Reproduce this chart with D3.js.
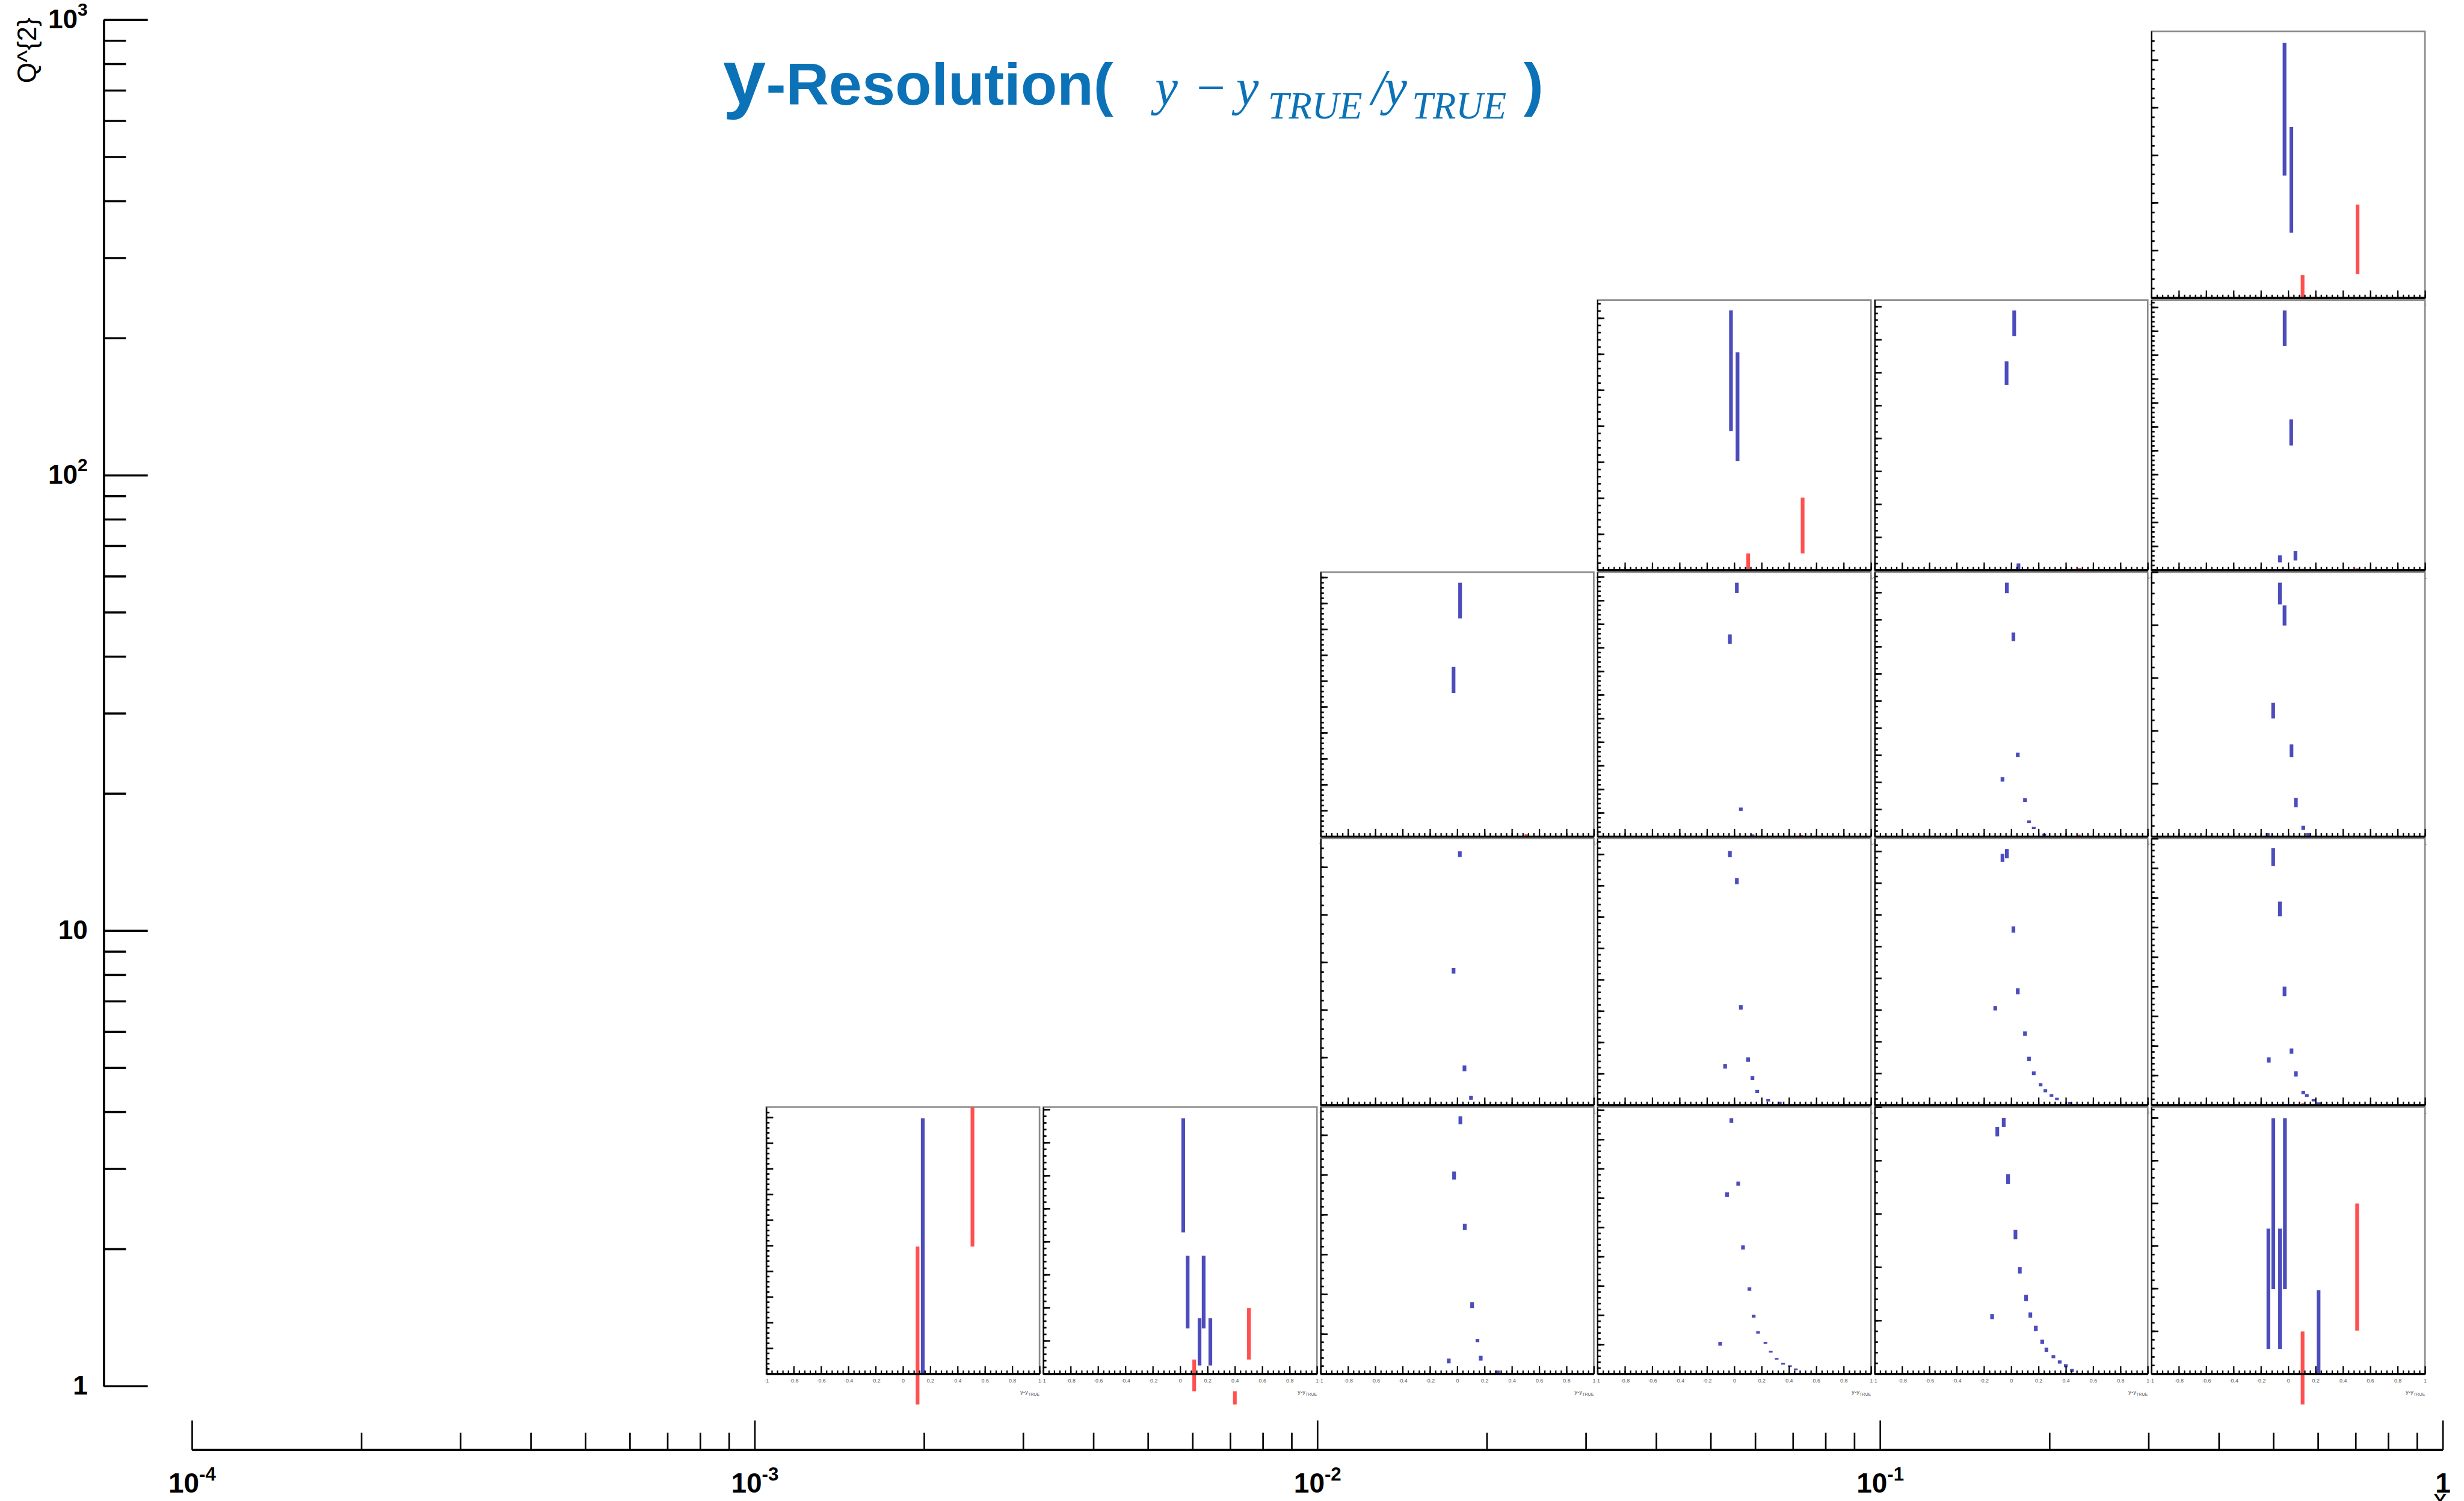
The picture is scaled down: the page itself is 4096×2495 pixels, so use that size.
<!DOCTYPE html>
<html>
<head>
<meta charset="utf-8">
<script src="https://cdn.jsdelivr.net/npm/d3@7"></script>
<style>
  body { margin: 0; background: #fff; }
  svg { display: block; }
</style>
</head>
<body>
<script>
// main axes
var xTicksMajor = [1e-4, 1e-3, 1e-2, 1e-1, 1];
var yTicksMajor = [1, 10, 100, 1000];

// where the small pads sit on the main axes (x and Q^2)
var padXEdges = [0.00104, 0.00323, 0.01005, 0.0312, 0.097, 0.301, 0.936];
var padQ2Edges = [1.064, 4.14, 16.1, 61.9, 245, 953];

// one entry per pad: column, row (0 = lowest Q^2), y range of the pad
var padCol = [0, 1, 2, 3, 4, 5, 2, 3, 4, 5, 2, 3, 4, 5, 3, 4, 5, 5];
var padRow = [0, 0, 0, 0, 0, 0, 1, 1, 1, 1, 2, 2, 2, 2, 3, 3, 3, 4];
var padYMax = [10.4, 8.07, 6.7, 9.1, 5, 6.25, 5.6, 8.5, 8.4, 9.0, 10.2, 11.2, 9.75, 5, 7.5, 8.2, 11.3, 5.6];

// error bars [resolution, low, high]
var padBlue = [
  [[0.145, 0, 9.96]],
  [[0.023, 4.28, 7.73], [0.055, 1.37, 3.57], [0.142, 0.25, 1.68], [0.172, 1.37, 3.57], [0.221, 0.25, 1.68]],
  [[0.023, 6.27, 6.47], [-0.023, 4.88, 5.08], [0.055, 3.61, 3.77], [0.109, 1.65, 1.8], [0.148, 0.79, 0.87],
   [-0.062, 0.26, 0.38], [0.172, 0.33, 0.45], [0.297, 0.02, 0.08]],
  [[-0.021, 8.56, 8.72], [0.029, 6.42, 6.56], [-0.053, 6.03, 6.19], [0.064, 4.24, 4.38], [0.111, 2.83, 2.95],
   [0.142, 1.91, 2.01], [0.174, 1.37, 1.45], [-0.103, 0.96, 1.08], [0.228, 1.02, 1.08], [0.267, 0.72, 0.78],
   [0.31, 0.48, 0.54], [0.357, 0.31, 0.37], [0.407, 0.23, 0.29], [0.45, 0.12, 0.18]],
  [[-0.055, 4.63, 4.8], [-0.102, 4.45, 4.63], [-0.023, 3.56, 3.74], [0.031, 2.52, 2.7], [0.063, 1.88, 2.0],
   [0.109, 1.36, 1.48], [-0.14, 1.02, 1.12], [0.14, 1.05, 1.15], [0.18, 0.8, 0.9], [0.227, 0.56, 0.64],
   [0.258, 0.41, 0.49], [0.309, 0.29, 0.35], [0.355, 0.19, 0.25], [0.4, 0.12, 0.18], [0.445, 0.03, 0.09]],
  [[-0.145, 0.58, 3.4], [-0.109, 1.98, 5.99], [-0.06, 0.58, 3.4], [-0.024, 1.98, 5.99], [0.222, 0, 1.96]],
  [[0.019, 5.21, 5.33], [-0.027, 2.76, 2.88], [0.053, 0.71, 0.83], [0.101, 0.11, 0.19]],
  [[-0.032, 7.9, 8.1], [0.019, 7.04, 7.24], [0.048, 3.04, 3.18], [-0.067, 1.16, 1.3], [0.101, 1.38, 1.52],
   [0.133, 0.8, 0.92], [0.168, 0.38, 0.48], [0.248, 0.11, 0.19], [0.333, 0.02, 0.1]],
  [[-0.032, 7.78, 8.07], [-0.064, 7.66, 7.92], [0.016, 5.43, 5.63], [0.048, 3.49, 3.68], [-0.117, 2.98, 3.12],
   [0.101, 2.18, 2.32], [0.13, 1.38, 1.52], [0.165, 0.94, 1.06], [0.215, 0.59, 0.69], [0.25, 0.4, 0.5],
   [0.295, 0.26, 0.34], [0.335, 0.15, 0.23], [0.428, 0.03, 0.09]],
  [[-0.11, 8.07, 8.67], [-0.061, 6.37, 6.87], [-0.027, 3.67, 4.0], [0.024, 1.73, 1.91], [-0.142, 1.43, 1.61],
   [0.056, 0.96, 1.14], [0.11, 0.36, 0.48], [0.136, 0.27, 0.37], [0.185, 0.12, 0.2], [0.225, 0.03, 0.09]],
  [[0.021, 8.41, 9.79], [-0.027, 5.53, 6.54]],
  [[0.019, 10.31, 10.75], [-0.032, 8.16, 8.56], [0.048, 1.08, 1.22], [0.133, 0, 0.08]],
  [[-0.032, 8.97, 9.36], [0.016, 7.2, 7.52], [0.048, 2.93, 3.09], [-0.064, 2.02, 2.18], [0.101, 1.27, 1.41],
   [0.13, 0.49, 0.59], [0.165, 0.27, 0.35], [0.242, 0.02, 0.1]],
  [[-0.061, 4.39, 4.8], [-0.027, 3.99, 4.37], [-0.11, 2.23, 2.53], [0.024, 1.5, 1.74], [0.056, 0.55, 0.73],
   [0.11, 0.12, 0.2], [0.144, 0, 0.06], [-0.15, 0, 0.06]],
  [[-0.024, 3.86, 7.21], [0.024, 3.03, 6.05]],
  [[0.022, 7.1, 7.88], [-0.034, 5.62, 6.34], [0.053, 0.02, 0.2]],
  [[-0.026, 9.38, 10.86], [0.022, 5.21, 6.3], [-0.061, 0.32, 0.61], [0.053, 0.4, 0.79]],
  [[-0.027, 2.57, 5.36], [0.023, 1.37, 3.59]]
];
var padRed = [
  [[0.107, -1.2, 4.96], [0.509, 4.96, 10.4]],
  [[0.103, -0.53, 0.43], [0.4, -0.93, -0.53], [0.503, 0.43, 1.99]],
  [],
  [],
  [],
  [[0.105, -0.72, 0.99], [0.504, 1.01, 3.99]],
  [],
  [],
  [],
  [[0.11, 0, 0.06]],
  [[0.507, 0, 0.08]],
  [[0.49, 0, 0.06]],
  [[0.495, 0, 0.06]],
  [],
  [[0.5, 0.46, 2.01], [0.102, -0.05, 0.46]],
  [[0.5, 0, 0.06]],
  [[0.109, -0.05, 0.05], [0.505, 0, 0.07]],
  [[0.507, 0.5, 1.96], [0.105, -0.02, 0.48]]
];

var blue = '#4c4cbc';
var red = '#ff5050';
var titleBlue = '#0b72b7';

// reference is 4635 x 2823, window is 4096 x 2495
var k = 4096 / 4635;

var svg = d3.select('body').append('svg')
  .attr('width', 4096)
  .attr('height', 2495);
var chart = svg.append('g').attr('transform', 'scale(' + k + ')');

var x = d3.scaleLog().domain([1e-4, 1]).range([361, 4595]);
var y = d3.scaleLog().domain([1, 1000]).range([2607, 37]);

function minorLog(majors) {
  var out = [];
  majors.slice(0, -1).forEach(function(d) {
    d3.range(2, 10).forEach(function(m) { out.push(d * m); });
  });
  return out;
}

function powerLabel(sel, v, supDy) {
  var e = Math.round(Math.log10(v));
  sel.text(null);
  if (e === 0) { sel.text('1'); return; }
  if (e === 1) { sel.text('10'); return; }
  sel.append('tspan').text('10');
  sel.append('tspan').attr('font-size', '0.68em').attr('dy', supDy).text(e);
}

// pads, top row first so the lower pads cover the labels of the upper ones
var order = d3.range(padCol.length).sort(function(a, b) { return padRow[b] - padRow[a] || padCol[a] - padCol[b]; });
order.forEach(drawPad);

function drawPad(i) {
  var c = padCol[i], r = padRow[i], yMax = padYMax[i];
  var x0 = x(padXEdges[c]) + 4, x1 = x(padXEdges[c + 1]) - 3;
  var y0 = y(padQ2Edges[r + 1]) + 4, y1 = y(padQ2Edges[r]);
  var px = d3.scaleLinear().domain([-1, 1]).range([x0, x1]);
  var py = d3.scaleLinear().domain([0, yMax]).range([y1, y0]);

  var pad = chart.append('g').attr('class', 'pad');
  pad.append('rect')
    .attr('x', x0).attr('y', y0)
    .attr('width', x1 - x0).attr('height', y1 - y0)
    .attr('fill', '#fff')
    .attr('stroke', '#8a8a8a')
    .attr('stroke-width', 3);

  pad.selectAll('line.blue').data(padBlue[i]).enter().append('line')
    .attr('class', 'blue')
    .attr('x1', function(d) { return px(d[0]); })
    .attr('x2', function(d) { return px(d[0]); })
    .attr('y1', function(d) { return py(d[1]); })
    .attr('y2', function(d) { return py(d[2]); })
    .attr('stroke', blue)
    .attr('stroke-width', 7);

  pad.selectAll('line.red').data(padRed[i]).enter().append('line')
    .attr('class', 'red')
    .attr('x1', function(d) { return px(d[0]); })
    .attr('x2', function(d) { return px(d[0]); })
    .attr('y1', function(d) { return py(d[1]); })
    .attr('y2', function(d) { return py(d[2]); })
    .attr('stroke', red)
    .attr('stroke-width', 7);

  // left axis, ticks inside
  var left = pad.append('g').attr('transform', 'translate(' + x0 + ',0)');
  left.append('g').call(d3.axisRight(py)
    .tickValues(d3.range(0, yMax, 0.2))
    .tickSizeInner(6).tickSizeOuter(0).tickFormat(''));
  left.append('g').call(d3.axisRight(py)
    .tickValues(d3.range(0, yMax + 1e-6, 1))
    .tickSizeInner(13).tickSizeOuter(0).tickFormat(''));
  left.selectAll('.domain').attr('stroke-width', 2);
  left.selectAll('.tick line').attr('stroke-width', 3);

  // bottom axis
  var bottom = pad.append('g').attr('transform', 'translate(0,' + y1 + ')');
  bottom.append('g').call(d3.axisBottom(px)
    .tickValues(d3.range(51).map(function(j) { return -1 + j * 0.04; }))
    .tickSizeInner(-6).tickSizeOuter(0).tickFormat(''));
  bottom.append('g').call(d3.axisBottom(px)
    .tickValues(d3.range(11).map(function(j) { return Math.round((-1 + j * 0.2) * 10) / 10; }))
    .tickSizeInner(-14).tickSizeOuter(0).tickPadding(9)
    .tickFormat(function(v) { return String(v); }));
  bottom.selectAll('.domain').attr('stroke-width', 4);
  bottom.selectAll('.tick line').attr('stroke-width', 2.5);
  bottom.selectAll('text')
    .attr('font-family', 'Liberation Sans, Arial, sans-serif')
    .attr('font-size', 10)
    .attr('fill', '#555');

  var t = pad.append('text')
    .attr('x', x1)
    .attr('y', y1 + 38)
    .attr('text-anchor', 'end')
    .attr('font-family', 'Liberation Sans, Arial, sans-serif')
    .attr('font-size', 11)
    .attr('fill', '#555')
    .text('y-y');
  t.append('tspan').attr('font-size', 8).attr('dy', 3).text('TRUE');
}

// y axis (Q^2), ticks pointing into the plot
var yAxisG = chart.append('g').attr('transform', 'translate(195,0)');
yAxisG.append('g').call(d3.axisLeft(y)
  .tickValues(minorLog(yTicksMajor))
  .tickSizeInner(-42).tickSizeOuter(0).tickFormat(''));
var yMajorG = yAxisG.append('g').call(d3.axisLeft(y)
  .tickValues(yTicksMajor)
  .tickSizeInner(-83).tickSizeOuter(0).tickPadding(30));
yAxisG.selectAll('.domain').attr('stroke-width', 4);
yAxisG.selectAll('.tick line').attr('stroke-width', 4);
yMajorG.attr('font-family', 'Liberation Sans, Arial, sans-serif').attr('font-size', 50).attr('font-weight', 'bold');
yMajorG.selectAll('.tick text').attr('fill', '#000').each(function(d) { powerLabel(d3.select(this), d, '-0.72em'); });

// x axis
var xAxisG = chart.append('g').attr('transform', 'translate(0,2727)');
xAxisG.append('g').call(d3.axisBottom(x)
  .tickValues(minorLog(xTicksMajor))
  .tickSizeInner(-32).tickSizeOuter(0).tickFormat(''));
var xMajorG = xAxisG.append('g').call(d3.axisBottom(x)
  .tickValues(xTicksMajor)
  .tickSizeInner(-55).tickSizeOuter(0).tickPadding(43));
xAxisG.selectAll('.domain').attr('stroke-width', 4);
xAxisG.selectAll('.tick line').attr('stroke-width', 3);
xMajorG.attr('font-family', 'Liberation Sans, Arial, sans-serif').attr('font-size', 52).attr('font-weight', 'bold');
xMajorG.selectAll('.tick text').attr('fill', '#000').each(function(d) { powerLabel(d3.select(this), d, '-0.62em'); });

// axis titles
chart.append('text')
  .attr('transform', 'translate(68,33) rotate(-90)')
  .attr('text-anchor', 'end')
  .attr('font-family', 'Liberation Sans, Arial, sans-serif')
  .attr('font-size', 50)
  .text('Q^{2}');

chart.append('text')
  .attr('x', 4590)
  .attr('y', 2838)
  .attr('text-anchor', 'middle')
  .attr('font-family', 'Liberation Sans, Arial, sans-serif')
  .attr('font-size', 52)
  .text('x');

// title
var title = chart.append('g').attr('fill', titleBlue);
var sans = 'Liberation Sans, Arial, sans-serif';
var serif = 'Liberation Serif, Times New Roman, serif';
title.append('text').attr('x', 1360).attr('y', 195)
  .attr('font-family', sans).attr('font-weight', 'bold').attr('font-size', 145).text('y');
title.append('text').attr('x', 1441).attr('y', 197)
  .attr('font-family', sans).attr('font-weight', 'bold').attr('font-size', 112).text('-Resolution(');
title.append('text').attr('x', 2173).attr('y', 197)
  .attr('font-family', serif).attr('font-style', 'italic').attr('font-size', 96).text('y');
title.append('text').attr('x', 2251).attr('y', 197)
  .attr('font-family', serif).attr('font-size', 96).text('\u2212');
title.append('text').attr('x', 2325).attr('y', 197)
  .attr('font-family', serif).attr('font-style', 'italic').attr('font-size', 96).text('y');
title.append('text').attr('x', 2385).attr('y', 223)
  .attr('font-family', serif).attr('font-style', 'italic').attr('font-size', 71).text('TRUE');
title.append('text').attr('x', 2580).attr('y', 197)
  .attr('font-family', serif).attr('font-style', 'italic').attr('font-size', 96).text('/');
title.append('text').attr('x', 2604).attr('y', 197)
  .attr('font-family', serif).attr('font-style', 'italic').attr('font-size', 96).text('y');
title.append('text').attr('x', 2656).attr('y', 223)
  .attr('font-family', serif).attr('font-style', 'italic').attr('font-size', 71).text('TRUE');
title.append('text').attr('x', 2866).attr('y', 197)
  .attr('font-family', sans).attr('font-weight', 'bold').attr('font-size', 112).text(')');
</script>
</body>
</html>
